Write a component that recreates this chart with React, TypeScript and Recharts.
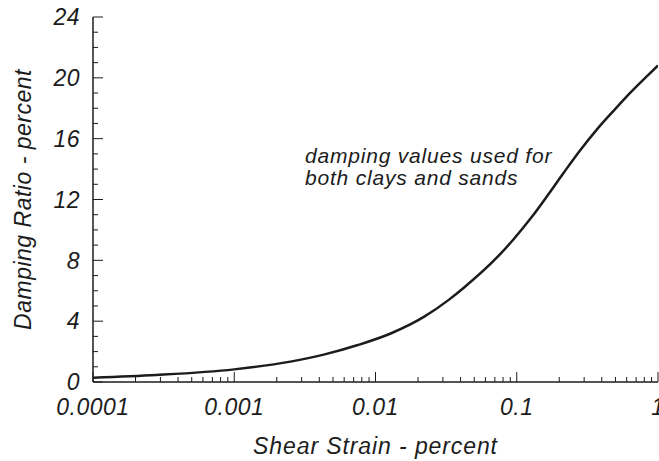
import React from "react";
import { LineChart, Line, XAxis, YAxis } from "recharts";

// shear strain (%) vs damping ratio (%)
const strain = [0.0001, 0.00028, 0.001, 0.0025, 0.0043, 0.0075, 0.0128, 0.022, 0.033, 0.042, 0.073, 0.095, 0.126, 0.166, 0.215, 0.284, 0.375, 0.49, 0.64, 0.84, 1];
const damping = [0.28, 0.46, 0.83, 1.34, 1.8, 2.43, 3.19, 4.28, 5.4, 6.18, 8.22, 9.39, 10.78, 12.29, 13.76, 15.29, 16.68, 17.88, 19.04, 20.13, 20.81];

const xMajor = [0.0001, 0.001, 0.01, 0.1, 1];
const xMajorLabels = ["0.0001", "0.001", "0.01", "0.1", "1"];
const yMajor = [0, 4, 8, 12, 16, 20, 24];
const note = ["damping values used for", "both clays and sands"];

const data = strain.map((s, i) => ({ strain: s, damping: damping[i] }));
const xMinor = xMajor
  .slice(0, -1)
  .flatMap((d) => [2, 3, 4, 5, 6, 7, 8, 9].map((m) => +(d * m).toPrecision(2)));
const xTicks = [...xMajor, ...xMinor].sort((a, b) => a - b);
const yTicks = Array.from({ length: 25 }, (_, i) => i);

const FONT = "'Liberation Sans', Arial, sans-serif";
const INK = "#1c1c1c";

const BottomTick = (props: any) => {
  const { x, y, payload } = props;
  const i = xMajor.indexOf(payload.value);
  return (
    <g>
      <line x1={x} x2={x} y1={y} y2={y - (i >= 0 ? 10 : 5)} stroke={INK} strokeWidth={1} />
      {i >= 0 && (
        <text x={x} y={y + 33} textAnchor="middle" fontSize={23} fontStyle="italic" fontFamily={FONT} fill={INK} letterSpacing={0.5}>
          {xMajorLabels[i]}
        </text>
      )}
    </g>
  );
};

const TopTick = (props: any) => {
  const { x, y, payload } = props;
  const major = xMajor.includes(payload.value);
  return <line x1={x} x2={x} y1={y} y2={y + (major ? 10 : 5)} stroke={INK} strokeWidth={1} />;
};

const LeftTick = (props: any) => {
  const { x, y, payload } = props;
  const major = yMajor.includes(payload.value);
  return (
    <g>
      <line x1={x} x2={x + (major ? 10 : 5)} y1={y} y2={y} stroke={INK} strokeWidth={1} />
      {major && (
        <text x={x - 13} y={y} dy="0.36em" textAnchor="end" fontSize={23} fontStyle="italic" fontFamily={FONT} fill={INK} letterSpacing={0.5}>
          {payload.value}
        </text>
      )}
    </g>
  );
};

const RightTick = (props: any) => {
  const { x, y, payload } = props;
  const major = yMajor.includes(payload.value);
  return <line x1={x} x2={x - (major ? 10 : 5)} y1={y} y2={y} stroke={INK} strokeWidth={1} />;
};

export default function App() {
  return (
    <div style={{ position: "absolute", left: 0, top: 0, width: 659, height: 461, background: "#fff", fontFamily: FONT }}>
      <LineChart width={659} height={461} data={data} margin={{ top: 17, right: 1, bottom: 0, left: 0 }}>
        <XAxis
          xAxisId="bottom"
          dataKey="strain"
          type="number"
          scale="log"
          domain={[0.0001, 1]}
          allowDataOverflow
          ticks={xTicks}
          interval={0}
          tickSize={0}
          tickMargin={0}
          tickLine={false}
          tick={<BottomTick />}
          height={79}
          axisLine={{ stroke: INK, strokeWidth: 1.5 }}
          label={{
            content: (p: any) => {
              const vb = p.viewBox;
              return (
                <text x={vb.x + vb.width / 2} y={vb.y + 72} textAnchor="middle" fontSize={23} fontStyle="italic" fontFamily={FONT} fill={INK} letterSpacing={0.9}>
                  Shear Strain - percent
                </text>
              );
            },
          }}
        />
        <XAxis
          xAxisId="top"
          orientation="top"
          dataKey="strain"
          type="number"
          scale="log"
          domain={[0.0001, 1]}
          allowDataOverflow
          ticks={xTicks}
          interval={0}
          tickSize={0}
          tickMargin={0}
          tickLine={false}
          tick={<TopTick />}
          height={0}
          axisLine={{ stroke: INK, strokeWidth: 2 }}
        />
        <YAxis
          yAxisId="left"
          type="number"
          domain={[0, 24]}
          allowDataOverflow
          ticks={yTicks}
          interval={0}
          tickSize={0}
          tickMargin={0}
          tickLine={false}
          tick={<LeftTick />}
          width={93}
          axisLine={{ stroke: INK, strokeWidth: 1.5 }}
          label={{
            content: (p: any) => {
              const vb = p.viewBox;
              const cx = 23;
              const cy = vb.y + vb.height / 2;
              return (
                <text x={cx} y={cy} dy="0.36em" transform={`rotate(-90 ${cx} ${cy})`} textAnchor="middle" fontSize={23} fontStyle="italic" fontFamily={FONT} fill={INK} letterSpacing={0.5}>
                  Damping Ratio - percent
                </text>
              );
            },
          }}
        />
        <YAxis
          yAxisId="right"
          orientation="right"
          type="number"
          domain={[0, 24]}
          allowDataOverflow
          ticks={yTicks}
          interval={0}
          tickSize={0}
          tickMargin={0}
          tickLine={false}
          tick={<RightTick />}
          width={0}
          axisLine={{ stroke: INK, strokeWidth: 1.5 }}
        />
        <Line
          xAxisId="bottom"
          yAxisId="left"
          type="monotone"
          dataKey="damping"
          stroke={INK}
          strokeWidth={2.5}
          dot={false}
          isAnimationActive={false}
        />
      </LineChart>
      <svg width={659} height={461} style={{ position: "absolute", left: 0, top: 0, pointerEvents: "none" }}>
        {note.map((t, i) => (
          <text key={t} x={305} y={163 + i * 22} fontSize={21} fontStyle="italic" fontFamily={FONT} fill={INK} letterSpacing={0.8}>
            {t}
          </text>
        ))}
      </svg>
    </div>
  );
}
